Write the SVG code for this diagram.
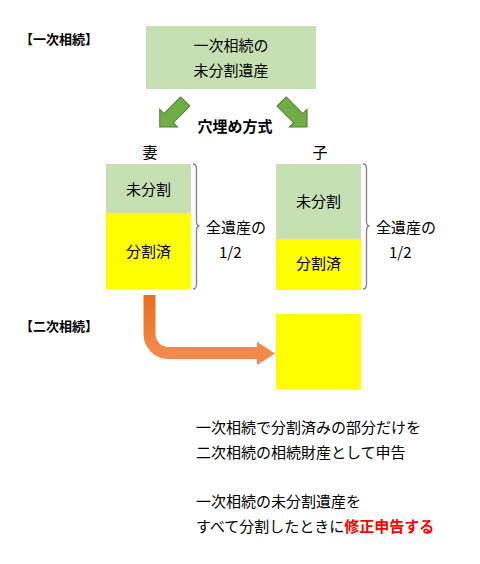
<svg xmlns="http://www.w3.org/2000/svg" width="480" height="564" viewBox="0 0 480 564">
<style>
  text { font-family: "Noto Sans CJK JP", "Noto Sans", sans-serif; font-size: 15px; fill: #000; dominant-baseline: central; }
  .b { font-weight: bold; }
  .lbl { font-size: 13px; font-weight: bold; }
  .c { text-anchor: middle; }
  .g { fill: #C6E0B4; }
  .y { fill: #FFFF00; }
  .ga { fill: #70AD47; stroke: #507E32; stroke-width: 1; }
  .br { fill: none; stroke: #7F7F7F; stroke-width: 1.3; }
  .red { fill: #FF0000; font-weight: bold; }
</style>
<defs>
  <linearGradient id="og" gradientUnits="userSpaceOnUse" x1="0" y1="295" x2="0" y2="350">
    <stop offset="0" stop-color="#E46F1C"/>
    <stop offset="1" stop-color="#F4894B"/>
  </linearGradient>
  <polygon id="garrow" points="0,-6.5 23.5,-6.5 23.5,-12.5 36,0 23.5,12.5 23.5,6.5 0,6.5"/>
</defs>
<rect width="480" height="564" fill="#fff"/>

<g id="label1"><text class="lbl" x="20" y="38">【一次相続】</text></g>

<g id="top">
  <rect class="g" x="146" y="26" width="170" height="63"/>
  <text class="c" x="231" y="44">一次相続の</text>
  <text class="c" x="231" y="69">未分割遺産</text>
</g>

<g id="method"><text class="b c" x="235" y="125">穴埋め方式</text></g>

<g id="wife">
  <text class="c" x="150" y="151">妻</text>
  <rect class="g" x="106" y="164" width="85" height="49"/>
  <rect class="y" x="106" y="213" width="85" height="76"/>
  <text class="c" x="148.5" y="188">未分割</text>
  <text class="c" x="148.5" y="250">分割済</text>
</g>

<g id="wife-share">
  <path class="br" d="M193,164 Q196.5,164 196.5,169 V221 Q196.5,226 199.5,226 Q196.5,226 196.5,231 V284 Q196.5,289 193,289"/>
  <text x="206" y="226">全遺産の</text>
  <text x="219" y="251">1/2</text>
</g>

<g id="child">
  <text class="c" x="320" y="151">子</text>
  <rect class="g" x="276" y="164" width="85" height="75"/>
  <rect class="y" x="276" y="239" width="85" height="51"/>
  <text class="c" x="318.5" y="200">未分割</text>
  <text class="c" x="318.5" y="262">分割済</text>
</g>

<g id="child-share">
  <path class="br" d="M363,164 Q366.5,164 366.5,169 V221 Q366.5,226 369.5,226 Q366.5,226 366.5,231 V284 Q366.5,289 363,289"/>
  <text x="376" y="226">全遺産の</text>
  <text x="389" y="251">1/2</text>
</g>

<g id="label2"><text class="lbl" x="20" y="325">【二次相続】</text></g>

<g id="second">
  <rect class="y" x="276" y="314" width="85" height="75"/>
</g>

<g id="connectors">
  <use href="#garrow" class="ga" transform="translate(185.2,101.5) rotate(135)"/>
  <use href="#garrow" class="ga" transform="translate(281.6,101.5) rotate(45)"/>
  <path d="M149.5,295 V334 A19,19 0 0 0 168.5,353 H258" fill="none" stroke="url(#og)" stroke-width="12"/>
  <polygon points="257,341.7 275,353.5 257,365" fill="#F4894B"/>
</g>

<g id="notes">
  <text x="196" y="426">一次相続で分割済みの部分だけを</text>
  <text x="196" y="451">二次相続の相続財産として申告</text>
  <text x="196" y="500">一次相続の未分割遺産を</text>
  <text x="196" y="525">すべて分割したときに<tspan class="red">修正申告する</tspan></text>
</g>
</svg>
